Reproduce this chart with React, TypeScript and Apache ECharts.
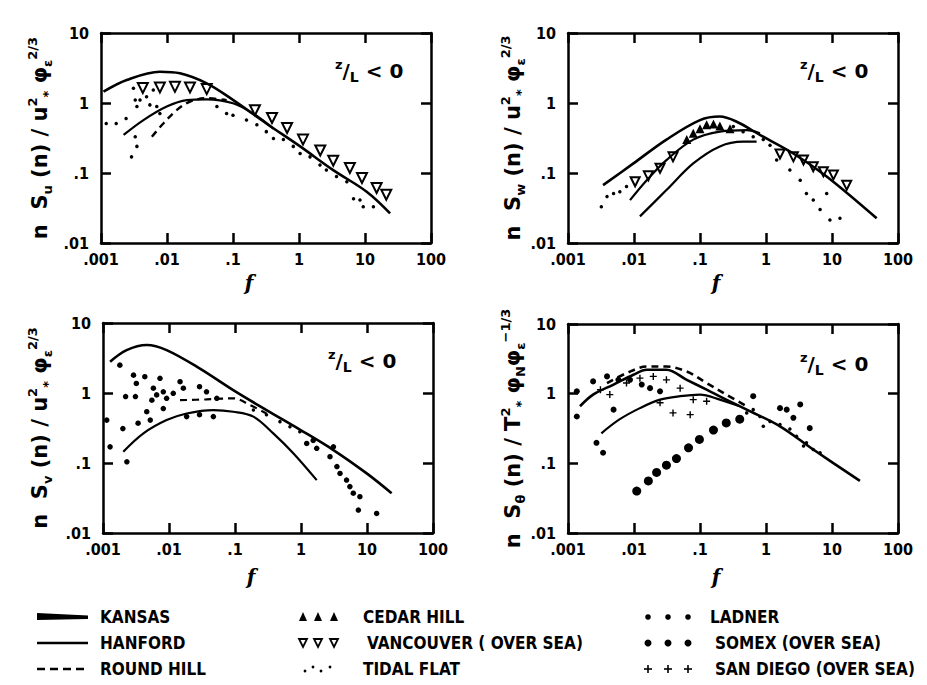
import React, { useEffect, useRef } from 'react';
import * as echarts from 'echarts';

const xTickLabels = ['.001', '.01', '.1', '1', '10', '100'];
const yTickLabels = ['.01', '.1', '1', '10'];

// Panel 1: n Su(n)
const p1Kansas = [[0.00109,1.45],[0.00245,2.13],[0.0078,2.8],[0.0157,2.66],[0.040,1.91],[0.101,1.10],[0.32,0.51],[1.04,0.24],[3.3,0.11],[10.6,0.054],[24,0.0265]];
const p1Hanford = [[0.0022,0.35],[0.0044,0.57],[0.0099,0.89],[0.020,1.1],[0.040,1.13],[0.10,0.99],[0.20,0.71],[0.41,0.43]];
const p1RoundHill = [[0.0059,0.33],[0.0088,0.51],[0.014,0.79],[0.022,1.04],[0.040,1.17],[0.080,1.1]];
const p1Vancouver = [[0.0043,1.64],[0.0078,1.67],[0.0132,1.7],[0.0223,1.67],[0.040,1.58],[0.215,0.79],[0.39,0.61],[0.66,0.44],[1.15,0.30],[2.1,0.21],[3.3,0.15],[5.9,0.118],[9.0,0.085],[15,0.061],[21,0.049]];
const p1Tidal = [[0.0031,1.62],[0.0033,1.1],[0.0035,0.89],[0.0039,1.1],[0.0049,1.23],[0.0055,0.94],[0.0062,1.53],[0.007,0.89],[0.0078,0.71],[0.0024,0.60],[0.0033,0.33],[0.0035,0.24],[0.0029,0.17],[0.0012,0.51],[0.0017,0.51],[0.057,0.89],[0.080,0.71],[0.10,0.67],[0.16,0.57],[0.23,0.49],[0.32,0.39],[0.41,0.31],[0.58,0.30],[0.82,0.24],[1.04,0.19],[1.47,0.17],[2.08,0.13],[2.6,0.11],[3.7,0.089],[5.3,0.075],[6.7,0.043],[9.4,0.033],[13.4,0.033],[8.4,0.041]];

// Panel 2: n Sw(n)
const p2Kansas = [[0.0034,0.067],[0.0098,0.137],[0.031,0.30],[0.10,0.57],[0.20,0.64],[0.36,0.54],[0.81,0.35],[2.6,0.19],[8.3,0.089],[47.5,0.0225]];
const p2Hanford = [[0.0087,0.041],[0.0156,0.079],[0.031,0.153],[0.079,0.30],[0.20,0.39],[0.51,0.41],[0.81,0.37]];
const p2Lower = [[0.0123,0.024],[0.031,0.057],[0.079,0.137],[0.20,0.24],[0.45,0.28],[0.72,0.28]];
const p2Cedar = [[0.063,0.30],[0.079,0.37],[0.10,0.43],[0.126,0.49],[0.16,0.50],[0.20,0.47],[0.285,0.43]];
const p2Vancouver = [[0.0104,0.075],[0.0165,0.091],[0.0248,0.117],[0.039,0.17],[1.63,0.187],[2.6,0.17],[3.7,0.153],[5.2,0.123],[7.4,0.104],[10.5,0.094],[16.7,0.067]];
const p2Tidal = [[0.0032,0.033],[0.0039,0.046],[0.0049,0.051],[0.0061,0.054],[0.0077,0.064],[0.32,0.46],[0.45,0.39],[0.64,0.33],[0.91,0.30],[1.15,0.25],[1.45,0.153],[2.3,0.11],[3.3,0.079],[4.1,0.051],[5.2,0.041],[6.6,0.030],[9.3,0.0213],[13.2,0.0225],[8.3,0.051]];

// Panel 3: n Sv(n)
const p3Kansas = [[0.00128,2.8],[0.00228,4.1],[0.0046,4.85],[0.0092,4.1],[0.029,2.25],[0.094,1.1],[0.30,0.57],[0.96,0.30],[3.1,0.153],[9.9,0.071],[23.6,0.037]];
const p3Hanford = [[0.00203,0.145],[0.0041,0.265],[0.0092,0.41],[0.0185,0.51],[0.047,0.57],[0.094,0.54],[0.19,0.46],[0.38,0.265],[0.77,0.137],[1.73,0.057]];
const p3RoundHill = [[0.0147,0.79],[0.037,0.81],[0.094,0.84],[0.17,0.67],[0.30,0.51]];
const p3Ladner = [[0.0018,2.5],[0.00114,0.41],[0.00128,0.17],[0.0020,0.31],[0.0029,1.8],[0.0032,1.37],[0.0031,0.89],[0.0022,0.89],[0.0043,1.71],[0.0058,1.17],[0.0065,0.94],[0.0055,0.79],[0.0073,1.62],[0.0082,1.04],[0.0092,0.84],[0.0116,0.99],[0.0147,1.45],[0.0165,1.17],[0.029,1.23],[0.037,1.04],[0.053,0.84],[0.0046,0.54],[0.0052,0.41],[0.0023,0.104],[0.0034,0.37],[0.0082,0.60],[0.0185,0.46],[0.029,0.49],[0.047,0.46],[1.22,0.19],[1.73,0.162],[2.75,0.123],[3.5,0.089],[3.9,0.071],[4.9,0.057],[5.5,0.046],[6.2,0.037],[7.8,0.033],[7.4,0.0213],[14,0.019],[3.1,0.17],[1.53,0.21]];
const p3Tidal = [[0.19,0.57],[0.30,0.49],[0.48,0.39],[0.68,0.33],[0.96,0.28]];

// Panel 4: n Sθ(n)
const p4Kansas = [[0.00152,0.66],[0.0024,0.97],[0.0049,1.35],[0.0098,1.87],[0.0156,2.2],[0.031,2.2],[0.063,1.58],[0.126,1.14],[0.25,0.82],[0.51,0.59],[1.63,0.34],[5.2,0.158],[26.5,0.056]];
const p4RoundHill = [[0.0039,1.42],[0.0077,1.97],[0.0156,2.45],[0.031,2.45],[0.063,2.08],[0.126,1.42],[0.25,0.97],[0.51,0.66]];
const p4Hanford = [[0.0032,0.27],[0.0061,0.43],[0.0123,0.62],[0.0248,0.82],[0.050,0.92],[0.10,0.97],[0.20,0.82],[0.40,0.66]];
const p4Somex = [[0.011,0.040],[0.0165,0.056],[0.022,0.074],[0.031,0.094],[0.044,0.117],[0.067,0.167],[0.098,0.22],[0.16,0.30],[0.25,0.38],[0.40,0.43]];
const p4Ladner = [[0.00136,1.08],[0.0024,1.5],[0.0039,1.77],[0.0058,1.58],[0.0087,1.58],[0.0131,1.35],[0.0175,1.2],[0.0248,1.08],[0.0027,0.197],[0.0034,0.142],[0.00136,0.47],[0.0049,0.59],[0.64,0.92],[1.63,0.62],[3.3,0.70],[2.6,0.45],[4.6,0.32],[2.06,0.59]];
const p4SanDiego = [[0.0031,1.14],[0.0043,0.97],[0.0077,1.42],[0.0123,1.67],[0.0196,1.77],[0.031,1.58],[0.050,1.2],[0.079,0.82],[0.126,0.78],[0.039,0.53],[0.071,0.50],[0.0248,0.74]];
const p4Tidal = [[0.51,0.53],[0.81,0.47],[1.15,0.40],[1.63,0.36],[2.3,0.31],[2.9,0.245],[4.1,0.197],[5.2,0.158],[6.6,0.142],[3.7,0.177],[0.91,0.34],[0.64,0.59]];

const yNames = [
  '{m|n  S}{s|u}{m| (n) / u}{p|2}{s|*}{m| φ}{s|ε}{p|2/3}',
  '{m|n  S}{s|w}{m| (n) / u}{p|2}{s|*}{m| φ}{s|ε}{p|2/3}',
  '{m|n  S}{s|v}{m| (n) / u}{p|2}{s|*}{m| φ}{s|ε}{p|2/3}',
  '{m|n  S}{s|θ}{m| (n) / T}{p|2}{s|*}{m| φ}{s|N}{m|φ}{s|ε}{p|−1/3}',
];

const legendLabels = [
  ['KANSAS', 'HANFORD', 'ROUND HILL'],
  ['CEDAR HILL', 'VANCOUVER ( OVER SEA)', 'TIDAL FLAT'],
  ['LADNER', 'SOMEX (OVER SEA)', 'SAN DIEGO (OVER SEA)'],
];

const FONT = "'DejaVu Sans Condensed','Liberation Sans Narrow','DejaVu Sans',sans-serif";
const PLUS = 'path://M4 0h2v4h4v2h-4v4h-2v-4h-4v-2h4z';

const grids = [
  { left: 101, top: 33, width: 330, height: 210 },
  { left: 568, top: 33, width: 330, height: 210 },
  { left: 103, top: 323, width: 330, height: 210 },
  { left: 568, top: 324, width: 330, height: 209 },
];
const yNameGaps = [47, 34, 49, 33];
const fGaps = [30, 30, 34, 34];
const zlPos = [[335, 58], [800, 58], [328, 348], [800, 351]];

function axisBase(i: number) {
  return {
    type: 'log', logBase: 10, gridIndex: i,
    axisLine: { show: true, onZero: false, lineStyle: { color: '#000', width: 2.5 } },
    axisTick: { show: true, inside: true, length: 10, lineStyle: { color: '#000', width: 2.5 } },
    minorTick: { show: false },
    splitLine: { show: false },
  };
}

function buildOption() {
  const xAxis: any[] = [];
  const yAxis: any[] = [];
  grids.forEach((g, i) => {
    xAxis.push({
      ...axisBase(i), min: 0.001, max: 100, position: 'bottom',
      axisLabel: {
        show: true, margin: 8, color: '#000', fontSize: 16, fontWeight: 'bold', fontFamily: FONT,
        showMinLabel: true, showMaxLabel: true,
        formatter: (v: number) => xTickLabels[Math.round(Math.log10(v)) + 3] ?? '',
      },
      name: 'f', nameLocation: 'middle', nameGap: fGaps[i],
      nameTextStyle: { fontFamily: "'DejaVu Serif',serif", fontStyle: 'italic', fontWeight: 'bold', fontSize: 20, color: '#000', padding: [0, 34, 0, 0] },
    });
    xAxis.push({ ...axisBase(i), min: 0.001, max: 100, position: 'top', axisLabel: { show: false } });
    yAxis.push({
      ...axisBase(i), min: 0.01, max: 10, position: 'left',
      axisLabel: {
        show: true, margin: 12, color: '#000', fontSize: 16, fontWeight: 'bold', fontFamily: FONT,
        showMinLabel: true, showMaxLabel: true,
        formatter: (v: number) => yTickLabels[Math.round(Math.log10(v)) + 2] ?? '',
      },
      name: yNames[i], nameLocation: 'middle', nameRotate: 90, nameGap: yNameGaps[i],
      nameTextStyle: {
        rich: {
          m: { fontSize: 21, fontWeight: 'bold', fontFamily: "'DejaVu Sans',sans-serif", color: '#000', lineHeight: 28 },
          s: { fontSize: 13, fontWeight: 'bold', fontFamily: "'DejaVu Sans',sans-serif", color: '#000', verticalAlign: 'bottom', lineHeight: 28 },
          p: { fontSize: 13, fontWeight: 'bold', fontFamily: "'DejaVu Sans',sans-serif", color: '#000', verticalAlign: 'top', lineHeight: 28 },
        },
      },
    });
    yAxis.push({ ...axisBase(i), min: 0.01, max: 10, position: 'right', axisLabel: { show: false } });
  });

  const series: any[] = [];
  const line = (p: number, data: number[][], width: number, dashed = false) =>
    series.push({
      type: 'line', xAxisIndex: 2 * p, yAxisIndex: 2 * p, data, smooth: 0.35, symbol: 'none', z: 3,
      lineStyle: { color: '#000', width, type: dashed ? [7, 5] : 'solid' },
    });
  const scatter = (p: number, data: number[][], symbol: string, size: number, extra: any = {}) =>
    series.push({
      type: 'scatter', xAxisIndex: 2 * p, yAxisIndex: 2 * p, data, symbol, symbolSize: size, z: 2,
      itemStyle: { color: '#000', opacity: 1 }, ...extra,
    });
  const vanc = { symbolRotate: 180, itemStyle: { color: '#000', borderColor: '#000', borderWidth: 2, opacity: 1 } };

  line(0, p1Kansas, 2.6); line(0, p1Hanford, 2.2); line(0, p1RoundHill, 2.4, true);
  scatter(0, p1Tidal, 'circle', 3.5);
  scatter(0, p1Vancouver, 'emptyTriangle', 10, vanc);

  line(1, p2Kansas, 2.6); line(1, p2Hanford, 2.2); line(1, p2Lower, 2.2);
  scatter(1, p2Tidal, 'circle', 3.5);
  scatter(1, p2Cedar, 'triangle', 9);
  scatter(1, p2Vancouver, 'emptyTriangle', 9, vanc);

  line(2, p3Kansas, 2.6); line(2, p3Hanford, 2.2); line(2, p3RoundHill, 2.2, true);
  scatter(2, p3Ladner, 'circle', 5.5);
  scatter(2, p3Tidal, 'circle', 3.5);

  line(3, p4Kansas, 2.6); line(3, p4RoundHill, 2.6, true); line(3, p4Hanford, 2.2);
  scatter(3, p4Somex, 'circle', 9);
  scatter(3, p4Ladner, 'circle', 6);
  scatter(3, p4SanDiego, PLUS, 7);
  scatter(3, p4Tidal, 'circle', 3.5);

  const graphic: any[] = [];
  const zlRich = {
    z: { fontSize: 13, fontWeight: 'bold', fontFamily: "'DejaVu Sans',sans-serif", fill: '#000', verticalAlign: 'top', lineHeight: 26 },
    m: { fontSize: 20, fontWeight: 'bold', fontFamily: "'DejaVu Sans',sans-serif", fill: '#000', lineHeight: 26 },
    l: { fontSize: 14, fontWeight: 'bold', fontFamily: "'DejaVu Sans',sans-serif", fill: '#000', verticalAlign: 'bottom', lineHeight: 26 },
  };
  zlPos.forEach(([x, y]) => {
    graphic.push({ type: 'text', x, y, style: { text: '{z|z}{m|/}{l|L}{m| < 0}', rich: zlRich } });
  });

  const rows = [617, 643, 669];
  const textX = [100, 363, 710];
  legendLabels.forEach((col, c) => col.forEach((t, r) => {
    graphic.push({
      type: 'text', x: textX[c] + (c === 1 && r === 1 ? 4 : 0) + (c === 2 && r > 0 ? 5 : 0), y: rows[r],
      style: { text: t, fill: '#000', fontSize: 17, fontWeight: 'bold', fontFamily: FONT, verticalAlign: 'middle' },
    });
  }));
  // column 1 line samples
  graphic.push({ type: 'polygon', shape: { points: [[37, 613], [88, 615.5], [88, 619], [37, 620]] }, style: { fill: '#000' } });
  graphic.push({ type: 'line', shape: { x1: 37, y1: 643, x2: 88, y2: 643 }, style: { stroke: '#000', lineWidth: 2.5 } });
  graphic.push({ type: 'line', shape: { x1: 37, y1: 669, x2: 88, y2: 669 }, style: { stroke: '#000', lineWidth: 2.5, lineDash: [8, 5] } });
  // column 2 symbols
  [303, 318, 334].forEach((x) => {
    graphic.push({ type: 'polygon', shape: { points: [[x - 4, 621], [x + 4, 621], [x, 612]] }, style: { fill: '#000' } });
    graphic.push({ type: 'polygon', shape: { points: [[x - 4, 639], [x + 4, 639], [x, 647]] }, style: { fill: 'none', stroke: '#000', lineWidth: 1.8 } });
  });
  [305, 313, 321, 330].forEach((x, k) => {
    graphic.push({ type: 'circle', shape: { cx: x, cy: 669 + (k % 2 ? -2 : 2), r: 1.4 }, style: { fill: '#000' } });
  });
  // column 3 symbols
  [648, 668, 688].forEach((x) => {
    graphic.push({ type: 'circle', shape: { cx: x, cy: 617, r: 2.8 }, style: { fill: '#000' } });
    graphic.push({ type: 'circle', shape: { cx: x, cy: 643, r: 3.5 }, style: { fill: '#000' } });
    graphic.push({ type: 'line', shape: { x1: x - 4, y1: 669, x2: x + 4, y2: 669 }, style: { stroke: '#000', lineWidth: 1.6 } });
    graphic.push({ type: 'line', shape: { x1: x, y1: 665, x2: x, y2: 673 }, style: { stroke: '#000', lineWidth: 1.6 } });
  });

  return {
    animation: false,
    backgroundColor: '#fff',
    grid: grids.map((g) => ({ ...g, containLabel: false })),
    xAxis, yAxis, series, graphic,
  };
}

export default function App() {
  const ref = useRef<HTMLDivElement>(null);
  useEffect(() => {
    if (!ref.current) return;
    const chart = echarts.init(ref.current, null, { renderer: 'svg' });
    chart.setOption(buildOption() as any);
    return () => chart.dispose();
  }, []);
  return (
    <div
      ref={ref}
      style={{ position: 'absolute', left: 0, top: 0, width: 927, height: 685, background: '#fff' }}
    />
  );
}
